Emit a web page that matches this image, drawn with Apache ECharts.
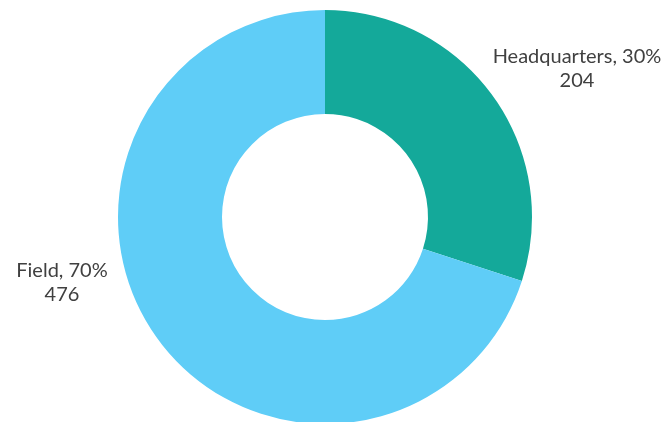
<!DOCTYPE html>
<html>
<head>
<meta charset="utf-8">
<script src="https://cdn.jsdelivr.net/npm/echarts@6/dist/echarts.min.js"></script>
<style>html,body{margin:0;padding:0;background:#fff}#c{width:667px;height:422px}</style>
</head>
<body>
<div id="c"></div>
<script>
var categories = ['Headquarters', 'Field'];
var values = [204, 476];
var percents = ['30%', '70%'];
var colors = ['#14A99A', '#5FCDF7'];
var labelPos = [[577, 69], [62, 283]];

var chart = echarts.init(document.getElementById('c'));
chart.setOption({
  animation: false,
  series: [{
    type: 'pie',
    center: [325, 217],
    radius: [103, 207],
    startAngle: 90,
    clockwise: true,
    data: categories.map(function (c, i) {
      return { name: c, value: values[i], itemStyle: { color: colors[i] } };
    }),
    label: {
      show: true,
      position: 'outside',
      fontFamily: 'Lato',
      fontSize: 20,
      color: '#404040',
      lineHeight: 24,
      align: 'center',
      overflow: 'none',
      formatter: function (p) {
        return p.name + ', ' + percents[p.dataIndex] + '\n' + p.value;
      }
    },
    labelLine: { show: false },
    labelLayout: function (p) {
      var pos = labelPos[p.dataIndex];
      return { x: pos[0], y: pos[1], align: 'center', verticalAlign: 'middle', hideOverlap: false, moveOverlap: false };
    }
  }]
});
</script>
</body>
</html>
